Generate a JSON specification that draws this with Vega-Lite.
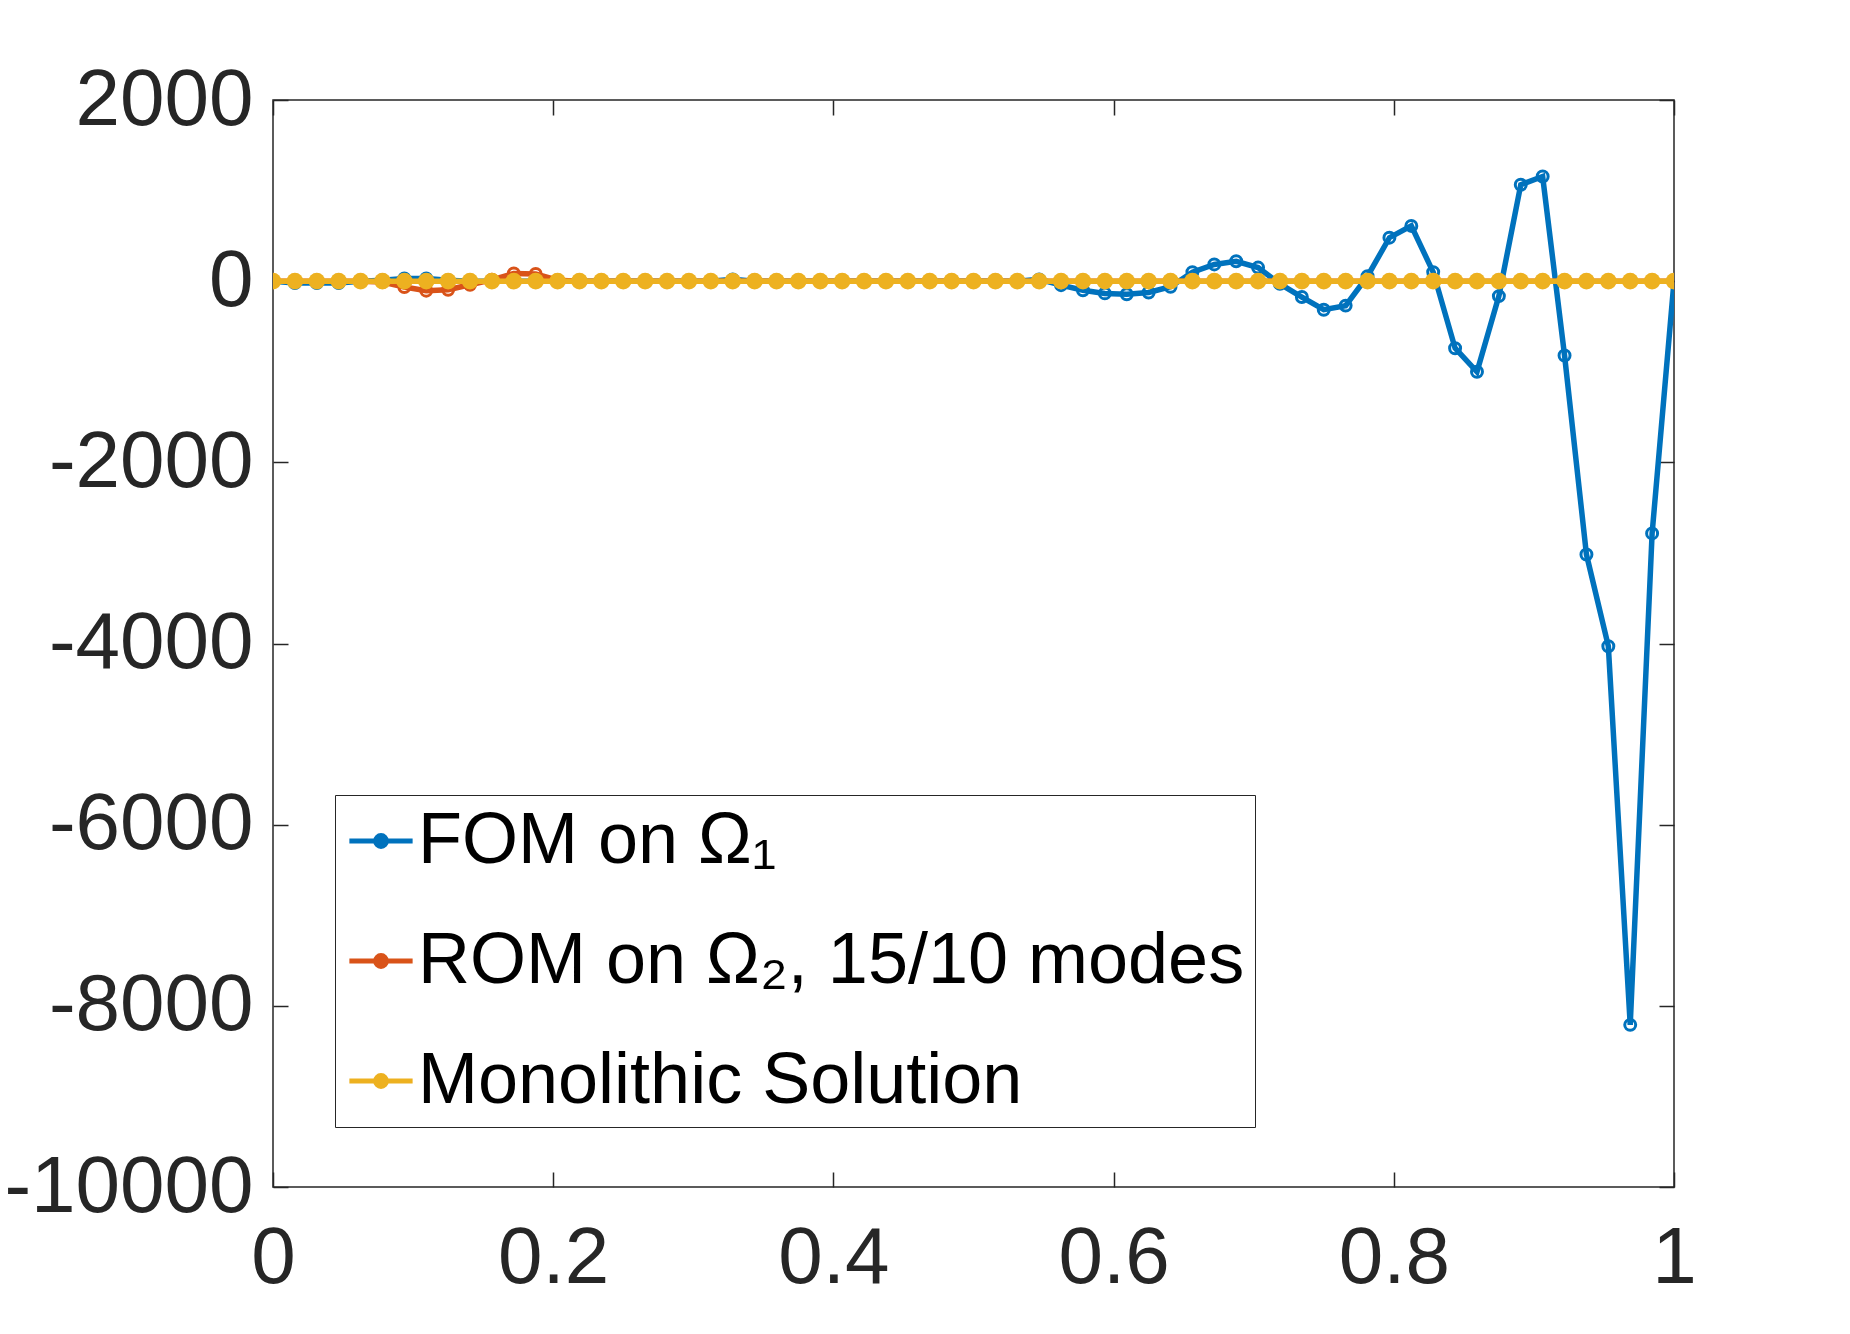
{
  "$schema": "https://vega.github.io/schema/vega-lite/v6.json",
  "description": "FOM / ROM / monolithic solution over x in [0, 1]",
  "width": 1401,
  "height": 1087,
  "autosize": {"type": "none"},
  "padding": {"left": 273, "top": 100, "right": 176, "bottom": 147},
  "background": "white",
  "config": {
    "view": {"stroke": "#262626", "strokeWidth": 1.5},
    "font": "Liberation Sans",
    "axis": {
      "grid": false,
      "domain": false,
      "ticks": true,
      "tickColor": "#262626",
      "tickWidth": 1.5,
      "tickSize": -15,
      "labelFont": "Liberation Sans",
      "labelFontSize": 80,
      "labelColor": "#262626",
      "labelFlush": false,
      "labelOverlap": false,
      "labelLimit": 0,
      "title": null
    },
    "legend": {
      "orient": "none",
      "legendX": 62,
      "legendY": 695,
      "title": null,
      "padding": 10,
      "rowPadding": 48,
      "strokeColor": "#262626",
      "fillColor": "white",
      "labelFont": "Liberation Sans",
      "labelFontSize": 72,
      "labelColor": "black",
      "labelOffset": 1,
      "labelLimit": 2000,
      "symbolType": "M-1,0H1M-0.17,0A0.17,0.17 0 1,0 0.17,0A0.17,0.17 0 1,0 -0.17,0",
      "symbolSize": 4000,
      "symbolStrokeWidth": 5,
      "symbolOpacity": 1
    }
  },
  "data": {
    "values": [
      {"x": 0.0, "fom": 0, "rom": 0, "mono": 0},
      {"x": 0.015625, "fom": -20, "rom": 0, "mono": 0},
      {"x": 0.03125, "fom": -20, "rom": 0, "mono": 0},
      {"x": 0.046875, "fom": -20, "rom": 0, "mono": 0},
      {"x": 0.0625, "fom": 0, "rom": 0, "mono": 0},
      {"x": 0.078125, "fom": 10, "rom": -10, "mono": 0},
      {"x": 0.09375, "fom": 30, "rom": -65, "mono": 0},
      {"x": 0.109375, "fom": 30, "rom": -105, "mono": 0},
      {"x": 0.125, "fom": 10, "rom": -95, "mono": 0},
      {"x": 0.140625, "fom": 0, "rom": -40, "mono": 0},
      {"x": 0.15625, "fom": 0, "rom": 15, "mono": 0},
      {"x": 0.171875, "fom": 0, "rom": 85, "mono": 0},
      {"x": 0.1875, "fom": 0, "rom": 80, "mono": 0},
      {"x": 0.203125, "fom": 0, "rom": 10, "mono": 0},
      {"x": 0.21875, "fom": 0, "rom": 0, "mono": 0},
      {"x": 0.234375, "fom": 0, "rom": 0, "mono": 0},
      {"x": 0.25, "fom": 0, "rom": 0, "mono": 0},
      {"x": 0.265625, "fom": 0, "rom": 0, "mono": 0},
      {"x": 0.28125, "fom": 0, "rom": 0, "mono": 0},
      {"x": 0.296875, "fom": 0, "rom": 0, "mono": 0},
      {"x": 0.3125, "fom": 0, "rom": 0, "mono": 0},
      {"x": 0.328125, "fom": 20, "rom": 0, "mono": 0},
      {"x": 0.34375, "fom": 0, "rom": 0, "mono": 0},
      {"x": 0.359375, "fom": 0, "rom": 0, "mono": 0},
      {"x": 0.375, "fom": 0, "rom": 0, "mono": 0},
      {"x": 0.390625, "fom": 0, "rom": 0, "mono": 0},
      {"x": 0.40625, "fom": 0, "rom": 0, "mono": 0},
      {"x": 0.421875, "fom": 0, "rom": 0, "mono": 0},
      {"x": 0.4375, "fom": 0, "rom": 0, "mono": 0},
      {"x": 0.453125, "fom": 0, "rom": 0, "mono": 0},
      {"x": 0.46875, "fom": 0, "rom": 0, "mono": 0},
      {"x": 0.484375, "fom": 0, "rom": 0, "mono": 0},
      {"x": 0.5, "fom": 0, "rom": 0, "mono": 0},
      {"x": 0.515625, "fom": 0, "rom": 0, "mono": 0},
      {"x": 0.53125, "fom": 0, "rom": 0, "mono": 0},
      {"x": 0.546875, "fom": 20, "rom": 0, "mono": 0},
      {"x": 0.5625, "fom": -44, "rom": 0, "mono": 0},
      {"x": 0.578125, "fom": -100, "rom": 0, "mono": 0},
      {"x": 0.59375, "fom": -135, "rom": 0, "mono": 0},
      {"x": 0.609375, "fom": -145, "rom": 0, "mono": 0},
      {"x": 0.625, "fom": -125, "rom": 0, "mono": 0},
      {"x": 0.640625, "fom": -62, "rom": 0, "mono": 0},
      {"x": 0.65625, "fom": 100, "rom": 0, "mono": 0},
      {"x": 0.671875, "fom": 185, "rom": 0, "mono": 0},
      {"x": 0.6875, "fom": 220, "rom": 0, "mono": 0},
      {"x": 0.703125, "fom": 150, "rom": 0, "mono": 0},
      {"x": 0.71875, "fom": -30, "rom": 0, "mono": 0},
      {"x": 0.734375, "fom": -175, "rom": 0, "mono": 0},
      {"x": 0.75, "fom": -315, "rom": 0, "mono": 0},
      {"x": 0.765625, "fom": -270, "rom": 0, "mono": 0},
      {"x": 0.78125, "fom": 55, "rom": 0, "mono": 0},
      {"x": 0.796875, "fom": 480, "rom": 0, "mono": 0},
      {"x": 0.8125, "fom": 610, "rom": 0, "mono": 0},
      {"x": 0.828125, "fom": 100, "rom": 0, "mono": 0},
      {"x": 0.84375, "fom": -740, "rom": 0, "mono": 0},
      {"x": 0.859375, "fom": -1000, "rom": 0, "mono": 0},
      {"x": 0.875, "fom": -165, "rom": 0, "mono": 0},
      {"x": 0.890625, "fom": 1065, "rom": 0, "mono": 0},
      {"x": 0.90625, "fom": 1155, "rom": 0, "mono": 0},
      {"x": 0.921875, "fom": -820, "rom": 0, "mono": 0},
      {"x": 0.9375, "fom": -3017, "rom": 0, "mono": 0},
      {"x": 0.953125, "fom": -4030, "rom": 0, "mono": 0},
      {"x": 0.96875, "fom": -8210, "rom": 0, "mono": 0},
      {"x": 0.984375, "fom": -2785, "rom": 0, "mono": 0},
      {"x": 1.0, "fom": 0, "rom": 0, "mono": 0}
    ]
  },
  "transform": [
    {"fold": ["fom", "rom", "mono"], "as": ["series", "value"]}
  ],
  "resolve": {"axis": {"x": "independent", "y": "independent"}},
  "layer": [
    {
      "encoding": {
        "x": {
          "field": "x",
          "type": "quantitative",
          "scale": {"domain": [0, 1], "nice": false, "zero": false},
          "axis": {
            "orient": "bottom",
            "values": [0, 0.2, 0.4, 0.6, 0.8, 1],
            "labelExpr": "'' + datum.value",
            "labelPadding": 47
          }
        },
        "y": {
          "field": "value",
          "type": "quantitative",
          "scale": {"domain": [-10000, 2000], "nice": false, "zero": false},
          "axis": {
            "orient": "left",
            "values": [2000, 0, -2000, -4000, -6000, -8000, -10000],
            "labelExpr": "'' + datum.value",
            "labelPadding": 35
          }
        },
        "color": {
          "field": "series",
          "type": "nominal",
          "scale": {
            "domain": ["fom", "rom", "mono"],
            "range": ["#0072BD", "#D95319", "#EDB120"]
          },
          "legend": {
            "labelExpr": "datum.label == 'fom' ? 'FOM on Ω₁' : datum.label == 'rom' ? 'ROM on Ω₂, 15/10 modes' : 'Monolithic Solution'"
          }
        }
      },
      "layer": [
        {"mark": {"type": "line", "strokeWidth": 5.5, "clip": true}},
        {
          "transform": [{"filter": "datum.series != 'mono'"}],
          "mark": {"type": "point", "filled": false, "size": 120, "strokeWidth": 3, "opacity": 1, "clip": true}
        },
        {
          "transform": [{"filter": "datum.series == 'mono'"}],
          "mark": {"type": "point", "shape": "circle", "filled": true, "size": 280, "opacity": 1, "clip": true}
        }
      ]
    },
    {
      "transform": [{"filter": "datum.series == 'mono'"}],
      "mark": {"type": "point", "opacity": 0},
      "encoding": {
        "x": {
          "field": "x",
          "type": "quantitative",
          "axis": {"orient": "top", "values": [0, 0.2, 0.4, 0.6, 0.8, 1], "labels": false}
        },
        "y": {
          "field": "value",
          "type": "quantitative",
          "axis": {"orient": "right", "values": [2000, 0, -2000, -4000, -6000, -8000, -10000], "labels": false}
        }
      }
    }
  ]
}
